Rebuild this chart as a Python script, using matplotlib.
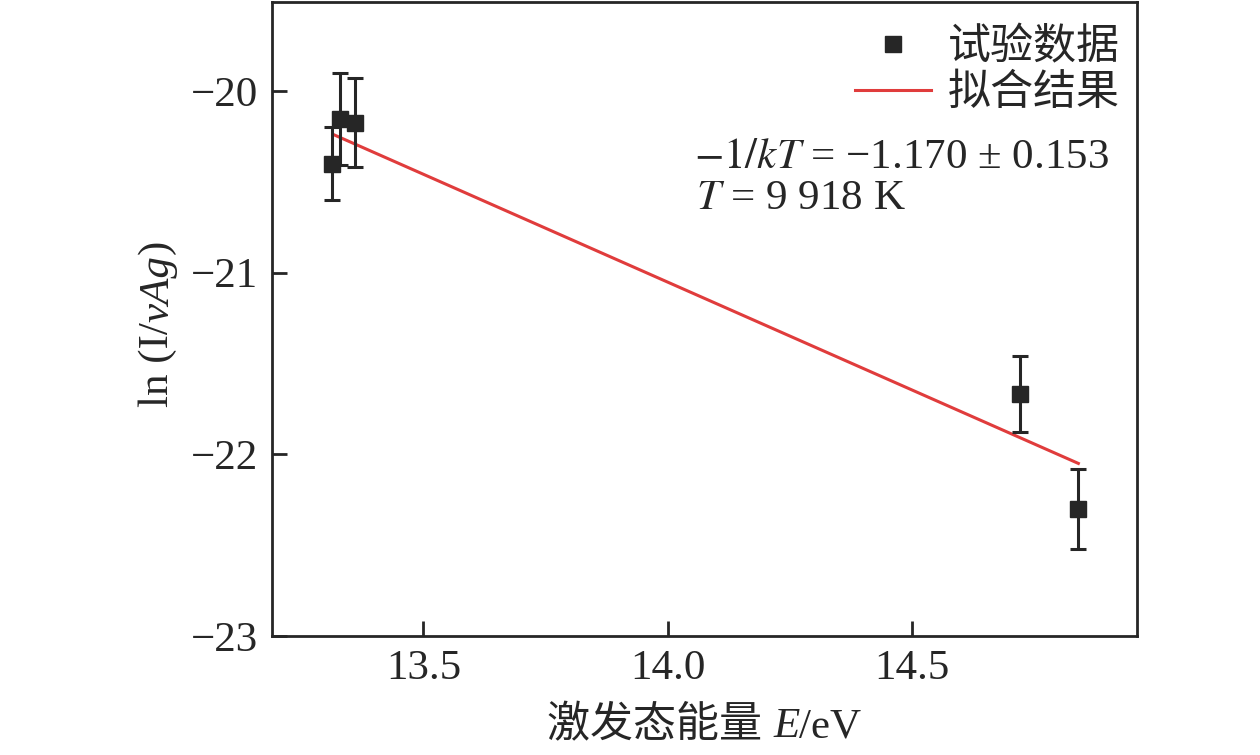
import matplotlib
matplotlib.use("Agg")
import matplotlib.pyplot as plt
from matplotlib.lines import Line2D
from matplotlib.offsetbox import TextArea, HPacker, AnchoredOffsetbox

plt.rcParams['font.family'] = ['Liberation Serif', 'Noto Sans CJK SC']
plt.rcParams['mathtext.fontset'] = 'stix'
plt.rcParams['axes.unicode_minus'] = True

# Data
energy = [13.312, 13.330, 13.360, 14.720, 14.840]
ln_val = [-20.40, -20.155, -20.175, -21.668, -22.30]
ln_err = [0.20, 0.255, 0.245, 0.21, 0.22]
fit_x = [13.316, 14.840]
fit_y = [-20.24, -22.05]
xticks = [13.5, 14.0, 14.5]
yticks = [-23, -22, -21, -20]

dark = '#262626'
red = '#e03c3c'
fs = 31
W, H = 1260, 755

fig = plt.figure(figsize=(12.6, 7.55), dpi=100)
ax = fig.add_axes([272/W, 1 - 636/H, (1137-272)/W, (636-2)/H])

ax.errorbar(energy, ln_val, yerr=ln_err, fmt='s', color=dark, ms=11,
            elinewidth=2.2, capsize=5.5, capthick=2.2, zorder=3)
ax.plot(fit_x, fit_y, color=red, lw=2.2, zorder=2)

ax.set_xlim(13.19, 14.96)
ax.set_ylim(-23, -19.51)
ax.set_xticks(xticks)
ax.set_xticklabels([f"{v:.1f}" for v in xticks])
ax.set_yticks(yticks)
ax.set_yticklabels([f"\u2212{abs(v)}" for v in yticks])

for s in ax.spines.values():
    s.set_linewidth(2.0)
    s.set_color(dark)
ax.tick_params(direction='in', length=11, width=2.0, colors=dark,
               labelsize=fs, pad=10)

# x label with mixed CJK / italic text
parts = [TextArea("激发态能量 ", textprops=dict(fontsize=fs, color=dark)),
         TextArea("E", textprops=dict(fontsize=fs, color=dark, style='italic',
                                      family='Liberation Serif')),
         TextArea("/eV", textprops=dict(fontsize=fs, color=dark))]
box = HPacker(children=parts, align='baseline', pad=0, sep=0)
ab = AnchoredOffsetbox(loc='center', child=box, pad=0, borderpad=0,
                       frameon=False, bbox_to_anchor=(0.5, -0.142),
                       bbox_transform=ax.transAxes)
ax.add_artist(ab)

# y label built from rotated pieces: "ln (I/" + italic "vAg" + ")"
renderer = fig.canvas.get_renderer()
ypieces = [("ln (I/", 'normal'), ("vAg", 'italic'), (") ", 'normal')]
base_x, cur_y = 168, 407
for txt, sty in ypieces:
    tmp = fig.text(0, 0, txt, fontsize=fs, style=sty, family='Liberation Serif')
    w = tmp.get_window_extent(renderer).width
    tmp.remove()
    fig.text(base_x / W, 1 - cur_y / H, txt, fontsize=fs, style=sty,
             family='Liberation Serif', color=dark, rotation=90,
             rotation_mode='anchor', ha='left', va='baseline')
    cur_y -= w

handles = [Line2D([], [], ls='none', marker='s', color=dark, ms=11),
           Line2D([], [], color=red, lw=2.2)]
leg = ax.legend(handles, ['试验数据', '拟合结果'], loc='upper right',
                bbox_to_anchor=(1.01, 1.0), frameon=False, fontsize=fs,
                handlelength=1.75, handletextpad=0.4, labelspacing=0.15,
                borderaxespad=0.2)
for t in leg.get_texts():
    t.set_color(dark)

ax.text(0.488, 0.754, "$-1/kT$ = \u22121.170 \u00b1 0.153", transform=ax.transAxes,
        fontsize=fs, color=dark, va='center', ha='left')
ax.text(0.49, 0.689, "$T$ = 9 918 K", transform=ax.transAxes,
        fontsize=fs, color=dark, va='center', ha='left')

fig.savefig("out.png", dpi=100)
